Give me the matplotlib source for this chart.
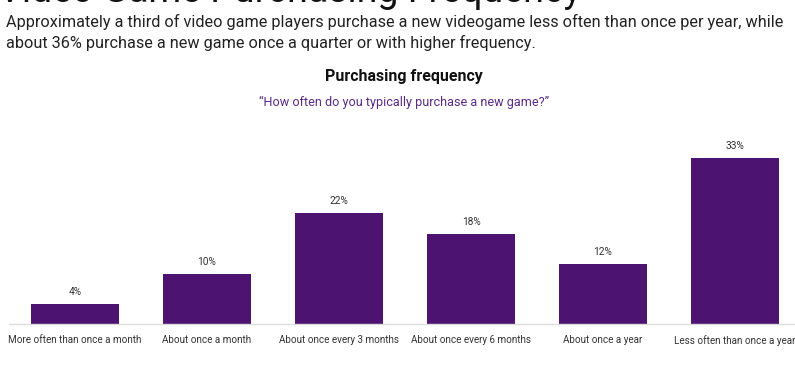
import matplotlib
matplotlib.use("Agg")
import matplotlib.pyplot as plt

plt.rcParams['font.family'] = ['Roboto', 'DejaVu Sans']

categories = ["More often than once a month", "About once a month",
              "About once every 3 months", "About once every 6 months",
              "About once a year", "Less often than once a year"]
shares = [4, 10, 22, 18, 12, 33]

bar_color = "#4c1370"
W, H = 795, 385

fig = plt.figure(figsize=(W / 100, H / 100), dpi=100)

# big header, mostly cut off at the top edge
fig.text(-0.002, 1 - 2 / H, "Video Game Purchasing Frequency", fontsize=27,
         color="#111111", va="baseline", ha="left")
fig.text(6 / W, 1 - 14 / H,
         "Approximately a third of video game players purchase a new videogame less often than once per year, while\n"
         "about 36% purchase a new game once a quarter or with higher frequency.",
         fontsize=11.7, color="#222222", va="top", ha="left", linespacing=1.42)
fig.text(404 / W, 1 - 76 / H, "Purchasing frequency", fontsize=11.5, fontweight="bold",
         color="#111111", va="center", ha="center")
fig.text(404 / W, 1 - 102 / H, "\u201cHow often do you typically purchase a new game?\u201d",
         fontsize=9.1, color="#5b2a86", va="center", ha="center")

ax = fig.add_axes([9 / W, 1 - 324 / H, 792 / W, 201 / H])
x = range(len(categories))
ax.bar(x, shares, width=0.667, color=bar_color)
for xi, v in zip(x, shares):
    ax.text(xi, v + 1.4, f"{v}%", ha="center", va="bottom", fontsize=7.3, color="#333333")

ax.set_xlim(-0.5, 5.5)
ax.set_ylim(0, 40)
ax.set_xticks(list(x))
ax.set_xticklabels(categories, fontsize=7.1, color="#333333")
ax.tick_params(axis="x", length=0, pad=8)
ax.set_yticks([])
for s in ["top", "right", "left"]:
    ax.spines[s].set_visible(False)
ax.spines["bottom"].set_color("#dddddd")
ax.spines["bottom"].set_linewidth(1)

fig.savefig("out.png", dpi=100)
